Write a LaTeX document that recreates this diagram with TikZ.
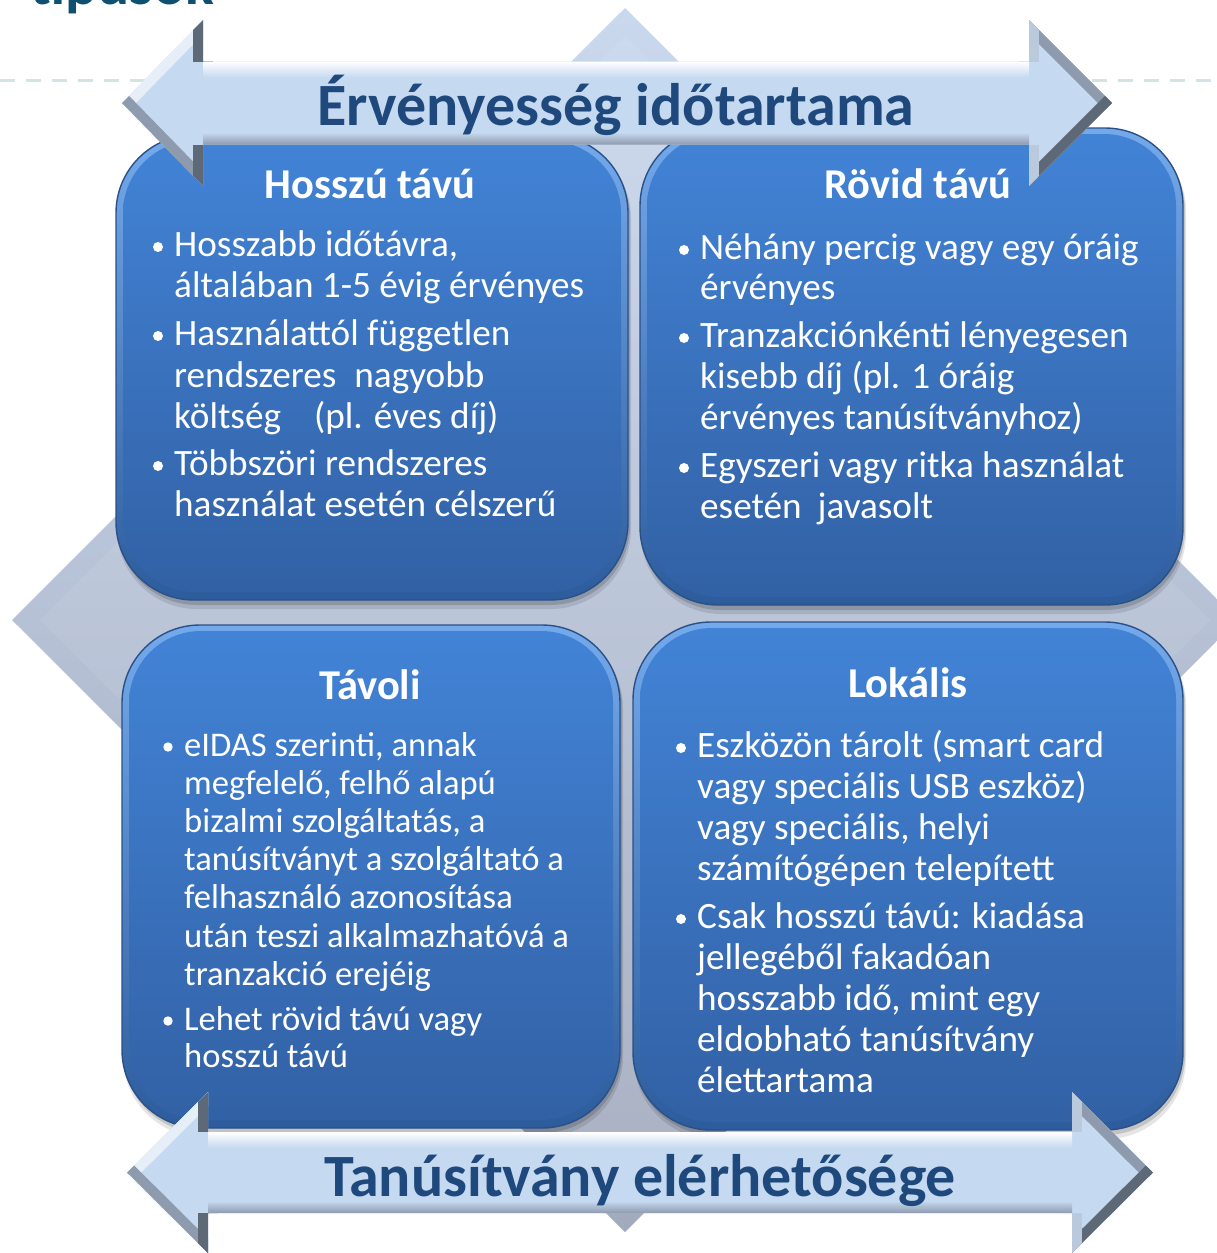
\documentclass[tikz,border=0pt]{standalone}
\usepackage{fontspec}
\setmainfont{Carlito}
\definecolor{navy}{HTML}{1F497D}
\definecolor{titlecol}{HTML}{0F5070}
\definecolor{dashcol}{HTML}{D2E4E4}
\definecolor{diaTop}{HTML}{CAD8EE}
\definecolor{diaBot}{HTML}{A2AABD}
\definecolor{rimTop}{HTML}{74AAEC}
\definecolor{rimBot}{HTML}{2D5C9C}
\definecolor{boxTop}{HTML}{4283D6}
\definecolor{boxBot}{HTML}{3261A5}
\definecolor{boxEdge}{HTML}{2A5088}
\definecolor{arrowBody}{HTML}{C5D9F0}
\definecolor{bevLight}{HTML}{E6EEF8}
\definecolor{bevMid}{HTML}{8E9BAE}
\definecolor{bevDark}{HTML}{5E6978}
\definecolor{bevLight2}{HTML}{BBC9DC}
\newcommand\qbox[4]{%
  \fill[black,opacity=0.10,rounded corners=80pt] (#1+1,#2+3) rectangle (#3+3,#4+9);
  \fill[black,opacity=0.15,rounded corners=80pt] (#1+1,#2+2) rectangle (#3+2,#4+5);
  \shade[rounded corners=78pt,top color=rimTop,bottom color=rimBot] (#1,#2) rectangle (#3,#4);
  \shade[rounded corners=72pt,top color=boxTop,bottom color=boxBot] (#1+7,#2+6) rectangle (#3-7,#4-8);
  \draw[boxEdge,line width=1.4pt,rounded corners=78pt] (#1,#2) rectangle (#3,#4);
}
\newcommand\darrow[7]{%
  \begin{scope}
    \clip (#1,#5) -- (#2,#5-#6) -- (#2,#5-#7) -- (#3,#5-#7) -- (#3,#5-#6) -- (#4,#5)
      -- (#3,#5+#6) -- (#3,#5+#7) -- (#2,#5+#7) -- (#2,#5+#6) -- cycle;
    \fill[arrowBody] (#1-5,#5-#6-5) rectangle (#4+5,#5+#6+5);
    \shade[top color=white,bottom color=arrowBody] (#2,#5-#7) rectangle (#3,#5-#7+16);
    \shade[top color=arrowBody,bottom color=bevMid] (#2,#5+#7-12) rectangle (#3,#5+#7);
    \draw[line width=20pt,bevLight] (#1,#5) -- (#2,#5-#6);
    \draw[line width=20pt,bevDark] (#2,#5-#6) -- (#2,#5-#7);
    \draw[line width=20pt,bevMid] (#1,#5) -- (#2,#5+#6);
    \draw[line width=20pt,bevDark] (#2,#5+#6) -- (#2,#5+#7);
    \draw[line width=20pt,bevMid] (#3,#5-#6) -- (#4,#5);
    \draw[line width=20pt,bevLight2] (#3,#5-#6) -- (#3,#5-#7);
    \draw[line width=20pt,bevDark] (#3,#5+#6) -- (#4,#5);
    \draw[line width=20pt,bevLight2] (#3,#5+#6) -- (#3,#5+#7);
  \end{scope}
}
\begin{document}
\begin{tikzpicture}[x=1pt,y=-1pt,
  body/.style={text=white,font=\fontsize{37.2}{41}\selectfont,anchor=base west,inner sep=0pt},
  bodys/.style={body,font=\fontsize{34.6}{38}\selectfont},
  hdr/.style={text=white,font=\bfseries\fontsize{42.5}{48}\selectfont,anchor=base,inner sep=0pt},
  atxt/.style={text=navy,font=\bfseries\fontsize{60}{66}\selectfont,anchor=base,inner sep=0pt},
  bul/.style={fill=white},
]
\useasboundingbox (0,0) rectangle (1216,1253);

% partial slide title (cut off at the top, as in the reference)
\node[anchor=base west,text=titlecol,font=\bfseries\fontsize{60}{66}\selectfont,inner sep=0pt] (slidetitle) at (30,4) {típusok};

% dashed rule
\draw[dashcol,line width=3pt,dash pattern=on 15pt off 11pt] (0,80) -- (1216,80);

% background diamond
\shade[top color=diaTop,bottom color=diaBot] (625,8) -- (1238,620) -- (625,1232) -- (12,620) -- cycle;
\fill[white,opacity=0.07] (625,36) -- (1210,620) -- (625,1204) -- (40,620) -- cycle;

% four rounded boxes
\qbox{116}{135}{628}{600}
\qbox{640}{128}{1183}{605}
\qbox{122}{625}{620}{1128}
\qbox{633}{622}{1183}{1130}

% headers
\node[hdr] (h1) at (370,198) {Hosszú távú};
\node[hdr] (h2) at (918,198) {Rövid távú};
\node[hdr] (h3) at (370,699) {Távoli};
\node[hdr] (h4) at (908,697) {Lokális};

% top-left box text
\fill[bul] (158,247) circle (5);
\node[body] (tl1) at (174,256) {Hosszabb időtávra,};
\node[body] (tl2) at (174,297) {általában 1-5 évig érvényes};
\fill[bul] (158,336) circle (5);
\node[body] (tl3) at (174,345) {Használattól független};
\node[body] (tl4) at (174,387) {rendszeres\hspace{18pt}nagyobb};
\node[body] (tl5) at (174,428) {költség\hspace{33pt}(pl. éves díj)};
\fill[bul] (158,466) circle (5);
\node[body] (tl6) at (174,475) {Többszöri rendszeres};
\node[body] (tl7) at (174,516) {használat esetén célszerű};

% top-right box text
\fill[bul] (684,250) circle (5);
\node[body] (tr1) at (700,259) {Néhány percig vagy egy óráig};
\node[body] (tr2) at (700,299) {érvényes};
\fill[bul] (684,338) circle (5);
\node[body] (tr3) at (700,347) {Tranzakciónkénti lényegesen};
\node[body] (tr4) at (700,388) {kisebb díj (pl. 1 óráig};
\node[body] (tr5) at (700,429) {érvényes tanúsítványhoz)};
\fill[bul] (684,468) circle (5);
\node[body] (tr6) at (700,477) {Egyszeri vagy ritka használat};
\node[body] (tr7) at (700,518) {esetén\hspace{16pt}javasolt};

% bottom-left box text
\fill[bul] (168,747) circle (4.7);
\node[bodys] (bl1) at (184,756) {eIDAS szerinti, annak};
\node[bodys] (bl2) at (184,794) {megfelelő, felhő alapú};
\node[bodys] (bl3) at (184,832) {bizalmi szolgáltatás, a};
\node[bodys] (bl4) at (184,870) {tanúsítványt a szolgáltató a};
\node[bodys] (bl5) at (184,908) {felhasználó azonosítása};
\node[bodys] (bl6) at (184,947) {után teszi alkalmazhatóvá a};
\node[bodys] (bl7) at (184,985) {tranzakció erejéig};
\fill[bul] (168,1021) circle (4.7);
\node[bodys] (bl8) at (184,1030) {Lehet rövid távú vagy};
\node[bodys] (bl9) at (184,1067) {hosszú távú};

% bottom-right box text
\fill[bul] (681,748) circle (5);
\node[body] (br1) at (697,757) {Eszközön tárolt (smart card};
\node[body] (br2) at (697,798) {vagy speciális USB eszköz)};
\node[body] (br3) at (697,839) {vagy speciális, helyi};
\node[body] (br4) at (697,880) {számítógépen telepített};
\fill[bul] (681,919) circle (5);
\node[body] (br5) at (697,928) {Csak hosszú távú: kiadása};
\node[body] (br6) at (697,969) {jellegéből fakadóan};
\node[body] (br7) at (697,1010) {hosszabb idő, mint egy};
\node[body] (br8) at (697,1051) {eldobható tanúsítvány};
\node[body] (br9) at (697,1092) {élettartama};

% double arrows
\darrow{122}{203}{1029}{1112}{103}{83}{41.5}
\darrow{127}{208}{1072}{1153}{1172.5}{80.5}{40.5}

\node[atxt] (at1) at (616,125) {Érvényesség időtartama};
\node[atxt] (at2) at (640,1196) {Tanúsítvány elérhetősége};
\end{tikzpicture}
\end{document}
